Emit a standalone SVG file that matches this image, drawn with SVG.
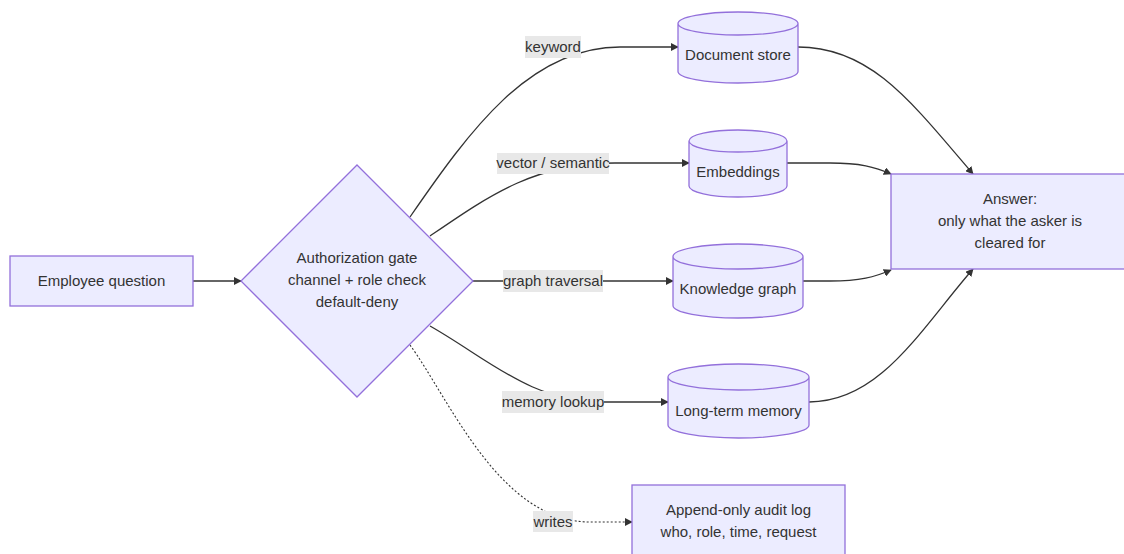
<svg xmlns="http://www.w3.org/2000/svg" width="1124" height="554" viewBox="0 0 1124 554">
  <style>
    .node { fill: #ECECFF; stroke: #9370DB; stroke-width: 1.3; }
    .txt { font-family: "Liberation Sans", Arial, sans-serif; font-size: 15px; fill: #333; text-anchor: middle; dominant-baseline: central; }
    .edge { fill: none; stroke: #333; stroke-width: 1.3; }
    .dotted { stroke-dasharray: 2 2; stroke-width: 1.1; }
    .lblbg { fill: #e8e8e8; }
  </style>
  <defs>
    <marker id="arrow" viewBox="0 0 10 10" refX="9" refY="5" markerWidth="8" markerHeight="8" markerUnits="userSpaceOnUse" orient="auto">
      <path d="M0,0 L10,5 L0,10 z" fill="#333"/>
    </marker>
  </defs>
  <rect width="1124" height="554" fill="#ffffff"/>

  <g id="connectors">
    <path class="edge" d="M193,281 L241,281" marker-end="url(#arrow)"/>
    <path class="edge" d="M410,217 C470,130 530,47 620,47 L678,47" marker-end="url(#arrow)"/>
    <path class="edge" d="M430,236 C490,195 535,163 615,163 L689,163" marker-end="url(#arrow)"/>
    <path class="edge" d="M473,281 L673,281" marker-end="url(#arrow)"/>
    <path class="edge" d="M430,326 C490,360 530,402 605,402 L668,402" marker-end="url(#arrow)"/>
    <path class="edge dotted" d="M410,345 C450,400 500,522 590,522 L632,522" marker-end="url(#arrow)"/>
    <path class="edge" d="M798,47 C870,47 910,100 973,174" marker-end="url(#arrow)"/>
    <path class="edge" d="M787,163 L830,163 C860,163 875,167 891,174" marker-end="url(#arrow)"/>
    <path class="edge" d="M803,281 L830,281 C860,281 875,277 891,270" marker-end="url(#arrow)"/>
    <path class="edge" d="M809,402 C880,402 920,330 973,269" marker-end="url(#arrow)"/>

    <g id="edge-labels">
      <rect class="lblbg" x="525" y="36" width="56" height="22"/>
      <text class="txt" x="553" y="46">keyword</text>
      <rect class="lblbg" x="497" y="153" width="112" height="21"/>
      <text class="txt" x="553" y="162">vector / semantic</text>
      <rect class="lblbg" x="503" y="270" width="100" height="22"/>
      <text class="txt" x="553" y="280">graph traversal</text>
      <rect class="lblbg" x="502" y="391" width="102" height="22"/>
      <text class="txt" x="553" y="401">memory lookup</text>
      <rect class="lblbg" x="533" y="511" width="40" height="21"/>
      <text class="txt" x="553" y="521">writes</text>
    </g>
  </g>

  <g id="employee-question">
    <rect class="node" x="10" y="256" width="183" height="50"/>
    <text class="txt" x="101.5" y="280">Employee question</text>
  </g>

  <g id="authorization-gate">
    <polygon class="node" points="357,165 473,281 357,397 241,281"/>
    <text class="txt" x="357" y="257">Authorization gate</text>
    <text class="txt" x="357" y="279">channel + role check</text>
    <text class="txt" x="357" y="301">default-deny</text>
  </g>

  <g id="document-store">
    <path class="node" d="M678,23.5 a60,11.5 0 0 0 120,0 a60,11.5 0 0 0 -120,0 l0,48 a60,11.5 0 0 0 120,0 l0,-48"/>
    <text class="txt" x="738" y="54">Document store</text>
  </g>

  <g id="embeddings">
    <path class="node" d="M689,141 a49,11 0 0 0 98,0 a49,11 0 0 0 -98,0 l0,45 a49,11 0 0 0 98,0 l0,-45"/>
    <text class="txt" x="738" y="171">Embeddings</text>
  </g>

  <g id="knowledge-graph">
    <path class="node" d="M673,256.5 a65,12.5 0 0 0 130,0 a65,12.5 0 0 0 -130,0 l0,49 a65,12.5 0 0 0 130,0 l0,-49"/>
    <text class="txt" x="738" y="288">Knowledge graph</text>
  </g>

  <g id="long-term-memory">
    <path class="node" d="M668,377 a70.5,13 0 0 0 141,0 a70.5,13 0 0 0 -141,0 l0,48 a70.5,13 0 0 0 141,0 l0,-48"/>
    <text class="txt" x="738.5" y="410">Long-term memory</text>
  </g>

  <g id="answer">
    <rect class="node" x="891" y="174" width="238" height="95"/>
    <text class="txt" x="1010" y="198">Answer:</text>
    <text class="txt" x="1010" y="220">only what the asker is</text>
    <text class="txt" x="1010" y="242">cleared for</text>
  </g>

  <g id="audit-log">
    <rect class="node" x="632" y="485" width="213" height="74"/>
    <text class="txt" x="738.5" y="509">Append-only audit log</text>
    <text class="txt" x="738.5" y="531">who, role, time, request</text>
  </g>
</svg>
